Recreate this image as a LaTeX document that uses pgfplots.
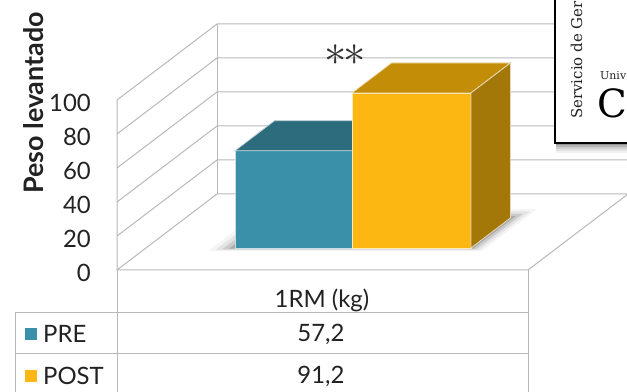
\documentclass[border=0pt]{standalone}
\usepackage{pgfplots}
\pgfplotsset{compat=1.18}
\usepackage{fontspec}
\setmainfont{Lato}
\newfontfamily\cardfont{DejaVu Serif}

\definecolor{preFront}{HTML}{3A90A8}
\definecolor{preTop}{HTML}{2C6C7C}
\definecolor{postFront}{HTML}{FDB713}
\definecolor{postTop}{HTML}{C48D07}
\definecolor{postSide}{HTML}{A47808}
\definecolor{gridgray}{HTML}{B8B8B8}
\definecolor{inkgray}{HTML}{222222}

\begin{document}
\begin{tikzpicture}
% oblique 3D box: x along the front (bp), y = depth (0..1), z = kg
\begin{axis}[
  x={(1bp,0bp)}, y={(100bp,76bp)}, z={(0bp,1.7bp)},
  xmin=-110, xmax=415, ymin=0, ymax=1, zmin=-75, zmax=140,
  hide axis, clip=false,
]
\coordinate (O) at (axis cs:0,0,0);

% gridlines on the left and back walls
\pgfplotsinvokeforeach{0,20,...,100}{
  \addplot3[gridgray, line width=1bp] coordinates {(0,0,#1) (0,1,#1) (411,1,#1)};
}
% wall and floor edges
\addplot3[gridgray, line width=1bp] coordinates {(0,0,100) (0,0,0) (411,0,0) (411,1,0)};
\addplot3[gridgray, line width=1bp] coordinates {(0,1,0) (0,1,100)};

% soft shadow under the bars
\addplot3[fill=black, fill opacity=0.04, draw=none] coordinates {(66,0.25,0) (340,0.25,0) (340,0.80,0) (66,0.80,0)} -- cycle;
\addplot3[fill=black, fill opacity=0.07, draw=none] coordinates {(72,0.26,0) (336,0.26,0) (336,0.77,0) (72,0.77,0)} -- cycle;
\addplot3[fill=black, fill opacity=0.11, draw=none] coordinates {(78,0.27,0) (332,0.27,0) (332,0.74,0) (78,0.74,0)} -- cycle;
\addplot3[fill=black, fill opacity=0.16, draw=none] coordinates {(84,0.28,0) (328,0.28,0) (328,0.71,0) (84,0.71,0)} -- cycle;

% PRE = 57.2
\addplot3[fill=preFront, draw=white!70!preFront, line width=0.8bp]
  coordinates {(89,0.29,0) (206,0.29,0) (206,0.29,57.2) (89,0.29,57.2)} -- cycle;
\addplot3[fill=preTop, draw=white!70!preTop, line width=0.8bp]
  coordinates {(89,0.29,57.2) (206,0.29,57.2) (206,0.685,57.2) (89,0.685,57.2)} -- cycle;

% POST = 91.2
\addplot3[fill=postFront, draw=white!70!postFront, line width=0.8bp]
  coordinates {(206,0.29,0) (325,0.29,0) (325,0.29,91.2) (206,0.29,91.2)} -- cycle;
\addplot3[fill=postTop, draw=white!70!postTop, line width=0.8bp]
  coordinates {(206,0.29,91.2) (325,0.29,91.2) (325,0.685,91.2) (206,0.685,91.2)} -- cycle;
\addplot3[fill=postSide, draw=white!70!postSide, line width=0.8bp]
  coordinates {(325,0.29,0) (325,0.685,0) (325,0.685,91.2) (325,0.29,91.2)} -- cycle;
\end{axis}

% labels, data table and the card, in page units (origin top left)
\begin{scope}[shift={(O)}, x=1bp, y=-1bp, shift={(-117,-270)}]
  \foreach \v in {0,20,...,100}
    \node[anchor=east, inner sep=0pt, text=inkgray, font=\fontsize{24}{26}\selectfont]
      at (91, 273-1.7*\v) {\v};
  \node[rotate=90, inner sep=0pt, text=inkgray, font=\fontsize{27}{30}\selectfont\bfseries]
    at (34,103) {Peso levantado};
  % significance mark
  \node[inner sep=0pt, text=black!80, scale=1.8, font=\fontsize{24}{24}\selectfont]
    at (345,55) {${\ast}\mkern-1.5mu{\ast}$};

  % data table
  \draw[gridgray, line width=1bp] (117,270) -- (117,400);
  \draw[gridgray, line width=1bp] (528,270) -- (528,400);
  \draw[gridgray, line width=1bp] (15,313) -- (528,313);
  \draw[gridgray, line width=1bp] (15,354) -- (528,354);
  \draw[gridgray, line width=1bp] (15,313) -- (15,400);
  \begin{scope}[every node/.style={inner sep=0pt, text=inkgray, font=\fontsize{24}{26}\selectfont}]
    \node at (322,300) {1RM (kg)};
    \node[anchor=west] at (43,334) {PRE};
    \node[anchor=west] at (43,376) {POST};
    \node at (321,334) {57,2};
    \node at (321,376) {91,2};
  \end{scope}
  \fill[preFront] (25,328) rectangle (37,340);
  \fill[postFront] (25,370) rectangle (37,382);

  % card overlapping the top right corner
  \foreach \k/\o in {10/0.05,8/0.07,6/0.09,4/0.12,2/0.18}
    \fill[black, opacity=\o] (556,-20) rectangle (660,143+\k);
  \filldraw[fill=white, draw=black, line width=1.6bp] (555,-20) rectangle (660,143);
  \node[rotate=90, anchor=base west, inner sep=0pt, text=inkgray,
        font=\cardfont\fontsize{15}{15}\selectfont] at (582,119) {Servicio de Ger};
  \node[anchor=base west, inner sep=0pt, text=inkgray,
        font=\cardfont\fontsize{11}{11}\selectfont] at (600,80) {Univ};
  \node[anchor=base west, inner sep=0pt, text=black,
        font=\cardfont\fontsize{39}{39}\selectfont] at (597,118) {C};
\end{scope}

\pgfresetboundingbox
\path[use as bounding box] ([shift={(-117bp,-122bp)}]O) rectangle ([shift={(510bp,270bp)}]O);
\end{tikzpicture}
\end{document}
